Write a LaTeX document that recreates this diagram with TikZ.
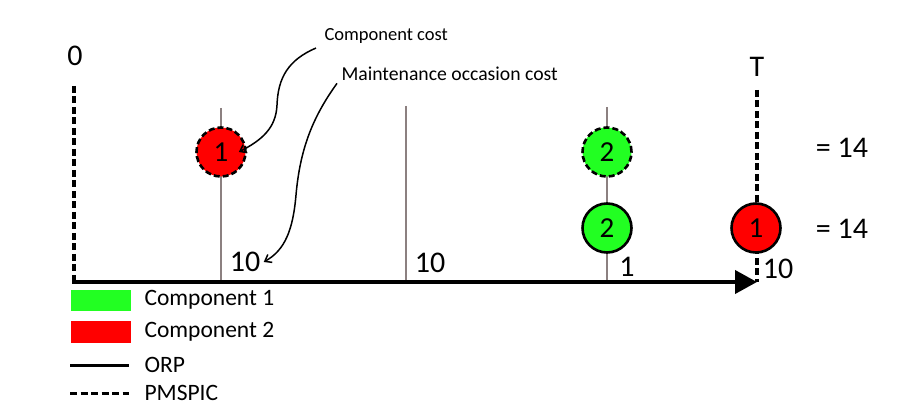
\documentclass[tikz,border=0pt]{standalone}
\usepackage{fontspec}
\setmainfont{Carlito}
\usetikzlibrary{arrows.meta}
\definecolor{compgreen}{RGB}{34,255,34}
\definecolor{compred}{RGB}{255,0,0}
\definecolor{occgrey}{RGB}{140,128,128}

\begin{document}
\begin{tikzpicture}[x=1pt,y=-1pt,
    comp/.style={circle,draw=black,line width=2.6pt,minimum size=49pt,inner sep=0pt,font=\fontsize{29}{29}\selectfont},
    pmspic/.style={dash pattern=on 7pt off 3.5pt,line width=3.4pt},
    occline/.style={occgrey,line width=2pt},
    cost/.style={font=\fontsize{30}{30}\selectfont},
    note/.style={anchor=west},
    legtext/.style={font=\fontsize{23.5}{23.5}\selectfont,anchor=west}]
  \useasboundingbox (0,0) rectangle (897,419);
  % occasions on the time axis
  \coordinate (o) at (72,282);
  \coordinate (tend) at (757,282);
  \foreach \n/\x/\y in {a/221/108,b/406/106,c/607/107} {
    \coordinate (top\n) at (\x,\y);
    \coordinate (bot\n) at (\x,282);
    \draw[occline] (top\n) -- (bot\n);
  }
  \coordinate (zerotop) at (74,86);
  \coordinate (zerobot) at (74,282);
  \coordinate (ttop) at (757,90);
  \coordinate (tbot) at (757,282);
  \draw[pmspic] (zerotop) -- (zerobot);
  \draw[pmspic] (ttop) -- (tbot);
  \draw[line width=4pt,-{Triangle[length=22pt,width=23pt]}] (o) -- (tend);
  \node[cost] (zero) at (75,56) {0};
  \node[cost] (tlab) at (757,67) {T};
  % components
  \node[comp,fill=compred,dash pattern=on 6pt off 3pt] (c1) at (221,152) {1};
  \node[comp,fill=compgreen,dash pattern=on 6pt off 3pt] (c2) at (607,152) {2};
  \node[comp,fill=compgreen] (c3) at (607,228) {2};
  \node[comp,fill=compred] (c4) at (756,228) {1};
  % costs
  \node[cost] (tena) at (245,262) {10};
  \node[cost] (tenb) at (430,263) {10};
  \node[cost] (onec) at (627,267) {1};
  \node[cost] (tenT) at (778,269) {10};
  \node[cost] (suma) at (842,148) {= 14};
  \node[cost] (sumb) at (842,229) {= 14};
  % annotations
  \node[note,font=\fontsize{18.5}{18.5}\selectfont] (ccost) at (321,36) {Component cost};
  \node[note,font=\fontsize{19.7}{19.7}\selectfont] (mcost) at (338,74) {Maintenance occasion cost};
  \draw[line width=1.5pt,-{Straight Barb[length=6pt,width=9pt]}] ([xshift=-5pt,yshift=-1pt]ccost.south west)
    .. controls (288,60) and (278,78) .. (277,105)
    .. controls (276,128) and (262,140) .. ([xshift=-8pt]c1.east);
  \draw[line width=1.5pt,-{Straight Barb[length=6pt,width=9pt]}] ([xshift=-1pt,yshift=1pt]mcost.south west)
    .. controls (312,118) and (300,150) .. (296,195)
    .. controls (293,230) and (285,250) .. (tena.east);
  % legend
  \fill[compgreen] (71,290) rectangle (131,311);
  \fill[compred] (71,321) rectangle (131,343);
  \coordinate (orpa) at (70,366);
  \coordinate (orpb) at (129,366);
  \coordinate (pmsa) at (70,394);
  \coordinate (pmsb) at (129,394);
  \draw[line width=3pt] (orpa) -- (orpb);
  \draw[pmspic,line width=3pt] (pmsa) -- (pmsb);
  \node[legtext] (leg1) at (141,300) {Component 1};
  \node[legtext] (leg2) at (141,332) {Component 2};
  \node[legtext] (leg3) at (141,365) {ORP};
  \node[legtext] (leg4) at (141,393) {PMSPIC};
\end{tikzpicture}
\end{document}
